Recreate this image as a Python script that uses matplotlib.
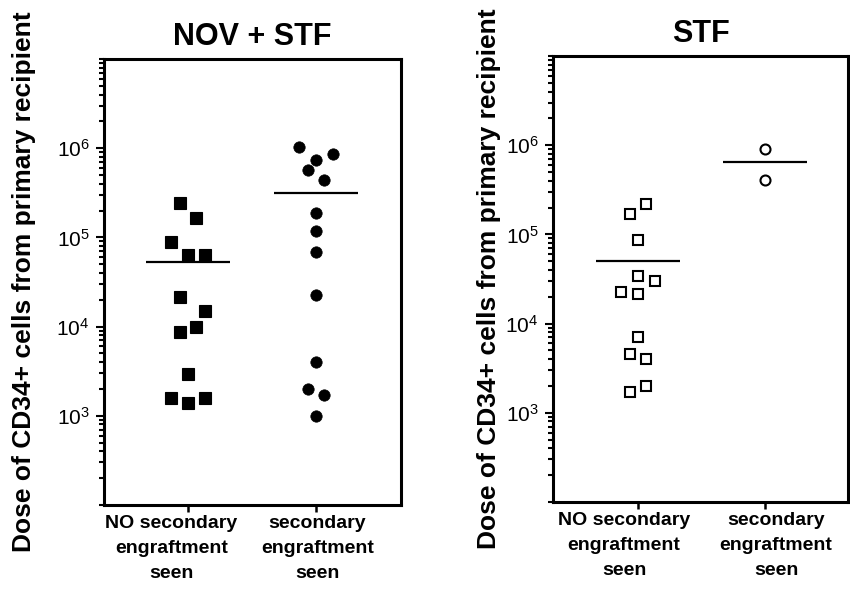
import numpy as np
import matplotlib
matplotlib.use("Agg")
import matplotlib.pyplot as plt
from matplotlib import ticker

plt.rcParams['font.family'] = ['Liberation Sans', 'DejaVu Sans']
plt.rcParams['mathtext.fontset'] = 'custom'
plt.rcParams['mathtext.rm'] = 'Liberation Sans'
plt.rcParams['mathtext.it'] = 'Liberation Sans:italic'
plt.rcParams['mathtext.bf'] = 'Liberation Sans:bold'

# data
groups = ["NO secondary\nengraftment\nseen", "secondary\nengraftment\nseen"]
titles = ["NOV + STF", "STF"]
ylabel = "Dose of CD34+ cells from primary recipient"

nov_no = [2.46e5, 1.67e5, 8.9e4, 6.3e4, 6.3e4, 2.15e4, 1.5e4, 1.0e4, 8.6e3,
          2.97e3, 1.6e3, 1.41e3, 1.6e3]
nov_no_slot = [-1, 1, -2, 0, 2, -1, 2, 1, -1, 0, -2, 0, 2]
nov_yes = [1.02e6, 8.6e5, 7.4e5, 5.75e5, 4.45e5, 1.88e5, 1.18e5, 6.9e4, 2.26e4,
           3.98e3, 2.0e3, 1.71e3, 1.0e3]
nov_yes_slot = [-2, 2, 0, -1, 1, 0, 0, 0, 0, 0, -1, 1, 0]

stf_no = [2.21e5, 1.69e5, 8.6e4, 3.46e4, 2.98e4, 2.25e4, 2.16e4, 7.0e3, 4.6e3,
          4.0e3, 1.98e3, 1.69e3]
stf_no_slot = [1, -1, 0, 0, 2, -2, 0, 0, -1, 1, 1, -1]
stf_yes = [9.0e5, 4.05e5]
stf_yes_slot = [0, 0]

step = 0.066  # horizontal spread between neighbouring points
half = 0.33   # half width of the mean line

fig = plt.figure(figsize=(8.5, 5.89), dpi=100)
ax1 = fig.add_axes([0.1224, 0.1426, 0.3494, 0.7572])
ax2 = fig.add_axes([0.6506, 0.1477, 0.3470, 0.7572])


def panel(ax, sets, title, xlim, offsets):
    for g, (vals, slots, style) in enumerate(sets):
        x = g + np.array(slots) * step
        ax.plot(x, vals, linestyle='none', **style)
        ax.hlines(np.mean(vals), g - half, g + half, color='black', lw=1.6)
    ax.set_yscale('log')
    ax.set_ylim(1e2, 1e7)
    ax.set_xlim(*xlim)
    ax.yaxis.set_major_locator(ticker.FixedLocator([1e3, 1e4, 1e5, 1e6]))
    ax.yaxis.set_major_formatter(ticker.LogFormatterSciNotation())
    ax.yaxis.set_minor_locator(ticker.LogLocator(base=10, subs='all', numticks=20))
    ax.yaxis.set_minor_formatter(ticker.NullFormatter())
    ax.set_xticks([0, 1])
    ax.set_xticklabels([])
    for g, (name, dx) in enumerate(zip(groups, offsets)):
        ax.annotate(name, xy=(g, 0), xycoords=ax.get_xaxis_transform(),
                    xytext=(dx, -7.5), textcoords='offset points',
                    ha='center', va='top', fontsize=14, fontweight='bold',
                    linespacing=1.6, annotation_clip=False)
    ax.tick_params(axis='y', which='major', length=5.5, width=1.5, labelsize=15, pad=5)
    ax.tick_params(axis='y', which='minor', length=3.5, width=1.5)
    ax.tick_params(axis='x', length=5, width=1.8)
    for s in ax.spines.values():
        s.set_linewidth(2.2)
    ax.set_title(title, fontsize=22, fontweight='bold', pad=10)


panel(ax1,
      [(nov_no, nov_no_slot, dict(marker='s', ms=8, color='black', mew=0.8)),
       (nov_yes, nov_yes_slot, dict(marker='o', ms=8.2, color='black', mew=0.5))],
      titles[0], (-0.656, 1.664), [-12, 1])
panel(ax2,
      [(stf_no, stf_no_slot, dict(marker='s', ms=7.6, mfc='white', mec='black', mew=1.5)),
       (stf_yes, stf_yes_slot, dict(marker='o', ms=7.2, mfc='white', mec='black', mew=1.5))],
      titles[1], (-0.669, 1.654), [-10, 8])

fig.text(24 / 850, 0.521, ylabel, rotation=90, ha='center', va='center',
         fontsize=19, fontweight='bold')
fig.text(489 / 850, 0.526, ylabel, rotation=90, ha='center', va='center',
         fontsize=19, fontweight='bold')

fig.savefig("out.png", dpi=100)
